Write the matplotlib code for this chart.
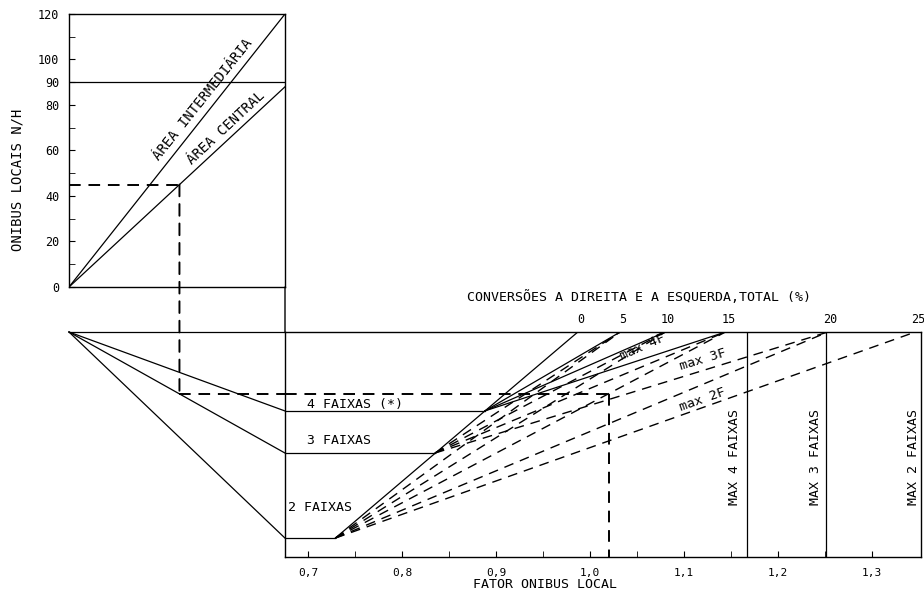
import matplotlib.pyplot as plt
from matplotlib.patches import ConnectionPatch

plt.rcParams['font.family'] = ['DejaVu Sans Mono', 'DejaVu Sans']

# top panel: local buses per hour
bus_ticks = [0, 20, 40, 60, 80, 90, 100, 120]
bus_minor = [10, 30, 50, 70, 110]
area_names = ['ÁREA INTERMEDIÁRIA', 'ÁREA CENTRAL']
area_end_buses = [120, 88]
bus_cap = 90

# lanes (relative level on the lower panels)
lane_labels = ['4 FAIXAS (*)', '3 FAIXAS', '2 FAIXAS']
lane_level = [0.649, 0.462, 0.084]
lane_zero_fator = [0.888, 0.835, 0.729]
lane_max_pct = [15, 20, 25]
max_labels = ['MAX 4 FAIXAS', 'MAX 3 FAIXAS', 'MAX 2 FAIXAS']
max_fator = [1.167, 1.251, 1.352]

# turning movements (%) and where each line meets the top edge
pct_values = [0, 5, 10, 15, 20, 25]
pct_top_fator = [0.987, 1.032, 1.080, 1.144, 1.253, 1.346]

fator_ticks = [0.7, 0.8, 0.9, 1.0, 1.1, 1.2, 1.3]
fator_labels = ['0,7', '0,8', '0,9', '1,0', '1,1', '1,2', '1,3']
fator_minor = [0.75, 0.85, 0.95, 1.05, 1.15, 1.25]
fator_min = 0.6755

example_buses = 45
example_fator = 1.02

W, H = 924, 600
fig = plt.figure(figsize=(W / 100, H / 100), dpi=100)


def box(x0, y0, x1, y1):
    return [x0 / W, 1 - y1 / H, (x1 - x0) / W, (y1 - y0) / H]


ax_top = fig.add_axes(box(69, 14, 285, 287))
ax_bl = fig.add_axes(box(69, 332, 285, 557))
ax_br = fig.add_axes(box(285, 332, 921, 557))

lw = 0.9
dash = (0, (7, 5))
exdash = (0, (6, 4))
fs = 9.5

# ---- top panel
ax_top.set_xlim(0, 1)
ax_top.set_ylim(0, 120)
ax_top.set_xticks([])
ax_top.set_yticks(bus_ticks)
ax_top.set_yticklabels([str(v) for v in bus_ticks], fontsize=8.5)
ax_top.set_yticks(bus_minor, minor=True)
ax_top.tick_params(axis='y', which='both', direction='in', length=4, pad=7)
for s in ax_top.spines.values():
    s.set_linewidth(1.0)
for name, b in zip(area_names, area_end_buses):
    ax_top.plot([0, 1], [0, b], color='k', lw=lw)
ax_top.axhline(bus_cap, color='k', lw=lw)
ax_top.annotate(area_names[0], xy=(0.66, 0.66 * area_end_buses[0]),
                xytext=(-8.8, 7), textcoords='offset pixels', rotation=51.5,
                ha='center', va='center', rotation_mode='anchor', fontsize=10)
ax_top.annotate(area_names[1], xy=(0.76, 0.76 * area_end_buses[1]),
                xytext=(-7.2, 7.5), textcoords='offset pixels', rotation=43,
                ha='center', va='center', rotation_mode='anchor', fontsize=10)
fig.text(18 / W, 1 - 180 / H, 'ONIBUS LOCAIS N/H', rotation=90,
         ha='center', va='center', fontsize=10)

x_ex = example_buses / area_end_buses[1]
y_ex = 1 - x_ex * (1 - lane_level[1])
ax_top.plot([0, x_ex], [example_buses, example_buses], color='k', lw=1.4,
            ls=exdash)

# ---- bottom left panel
ax_bl.set_xlim(0, 1)
ax_bl.set_ylim(0, 1)
ax_bl.axis('off')
ax_bl.plot([0, 1], [1, 1], color='k', lw=lw, clip_on=False)
for lev in lane_level:
    ax_bl.plot([0, 1], [1, lev], color='k', lw=lw, clip_on=False)
ax_bl.plot([x_ex, 1], [y_ex, y_ex], color='k', lw=1.4, ls=exdash,
           clip_on=False)

# ---- bottom right panel
ax_br.set_xlim(fator_min, max_fator[-1])
ax_br.set_ylim(0, 1)
ax_br.set_yticks([])
ax_br.set_xticks(fator_ticks)
ax_br.set_xticklabels(fator_labels, fontsize=8)
ax_br.set_xticks(fator_minor, minor=True)
ax_br.tick_params(axis='x', which='both', direction='in', length=4, pad=8)
for s in ax_br.spines.values():
    s.set_linewidth(1.0)

# 0 % line
ax_br.plot([pct_top_fator[0], lane_zero_fator[-1]], [1, lane_level[-1]],
           color='k', lw=lw)
for i, (lev, zf) in enumerate(zip(lane_level, lane_zero_fator)):
    ax_br.plot([fator_min, zf], [lev, lev], color='k', lw=lw)
    for p, tf in zip(pct_values[1:], pct_top_fator[1:]):
        if p > lane_max_pct[i]:
            continue
        if i == 0:
            ax_br.plot([zf, tf], [lev, 1], color='k', lw=lw)
        else:
            ax_br.plot([zf, tf], [lev, 1], color='k', lw=1.0, ls=dash)

for mf in max_fator[:-1]:
    ax_br.axvline(mf, color='k', lw=lw)

ax_br.plot([fator_min, example_fator], [y_ex, y_ex], color='k', lw=1.4,
           ls=exdash, clip_on=False)
ax_br.plot([example_fator, example_fator], [y_ex, 0], color='k', lw=1.4,
           ls=exdash)

# links between panels
fig.add_artist(ConnectionPatch((1, 0), (fator_min, 1), ax_top.transData,
                               ax_br.transData, color='k', lw=1.0))
fig.add_artist(ConnectionPatch((x_ex, example_buses), (x_ex, y_ex),
                               ax_top.transData, ax_bl.transData,
                               color='k', lw=1.4, ls=exdash))

# labels
for p, tf in zip(pct_values, pct_top_fator):
    ax_br.text(tf + 0.003, 1.055, str(p), ha='center', va='center',
               fontsize=8.5, transform=ax_br.get_xaxis_transform())
ax_br.text(0.286, 1.156, 'CONVERSÕES A DIREITA E A ESQUERDA,TOTAL (%)',
           transform=ax_br.transAxes, ha='left', va='center', fontsize=fs)
ax_br.text(0.296, -0.124, 'FATOR ONIBUS LOCAL', transform=ax_br.transAxes,
           ha='left', va='center', fontsize=fs)

lane_text_pos = [(0.699, 0.677), (0.699, 0.516), (0.679, 0.218)]
for lab, (tx, ty) in zip(lane_labels, lane_text_pos):
    ax_br.text(tx, ty, lab, ha='left', va='center', fontsize=fs)

max_text_x = [1.154, 1.240, 1.344]
for lab, tx in zip(max_labels, max_text_x):
    ax_br.text(tx, 0.444, lab, rotation=90, ha='center', va='center',
               fontsize=fs)

ax_br.text(1.056, 0.933, 'max 4F', rotation=24, ha='center', va='center',
           fontsize=fs)
ax_br.text(1.120, 0.876, 'max 3F', rotation=17, ha='center', va='center',
           fontsize=fs)
ax_br.text(1.120, 0.698, 'max 2F', rotation=19.5, ha='center', va='center',
           fontsize=fs)

fig.savefig('out.png', dpi=100, facecolor='white')
